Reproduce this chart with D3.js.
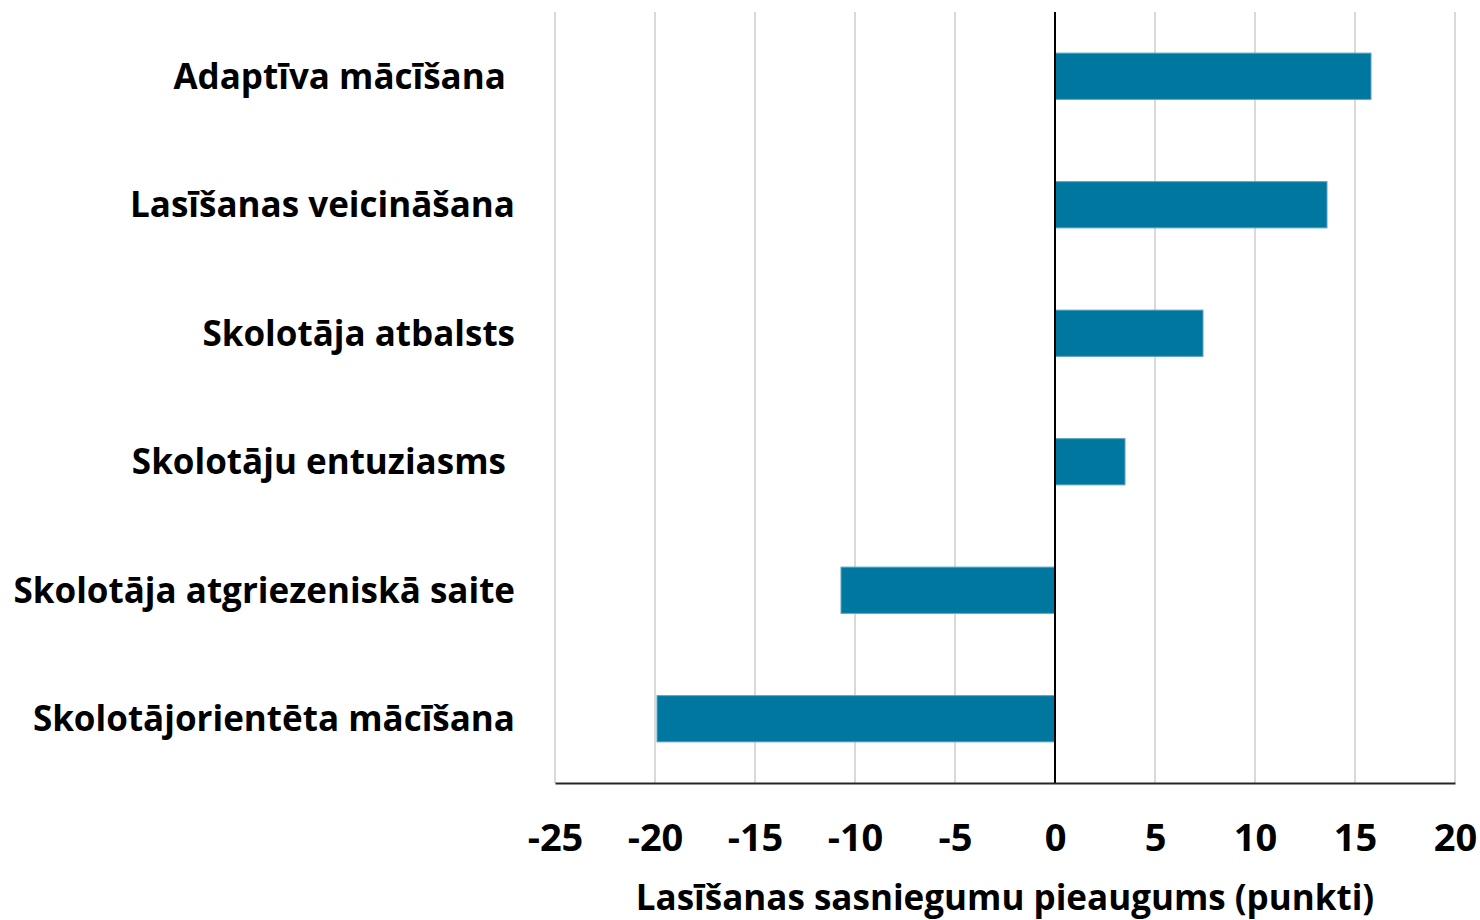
<!DOCTYPE html>
<html>
<head>
<meta charset="utf-8">
<script src="https://cdn.jsdelivr.net/npm/d3@7/dist/d3.min.js"></script>
<style>
  body { margin: 0; background: #fff; }
  svg text { font-family: "Open Sans", Lato, sans-serif; font-weight: bold; fill: #000; }
</style>
</head>
<body>
<svg id="chart" width="1480" height="920"></svg>
<script>
// categories top to bottom (trailing spaces kept as in the source)
var categories = [
    "Adaptīva mācīšana ",
    "Lasīšanas veicināšana",
    "Skolotāja atbalsts",
    "Skolotāju entuziasms ",
    "Skolotāja atgriezeniskā saite",
    "Skolotājorientēta mācīšana"
];
var values = [15.8, 13.6, 7.4, 3.5, -10.7, -19.9];
var tickValues = [-25, -20, -15, -10, -5, 0, 5, 10, 15, 20];
var axisTitle = "Lasīšanas sasniegumu pieaugums (punkti)";

var data = categories.map(function (c, i) {
    return {name: c, value: values[i]};
});

var svg = d3.select("#chart");
var plotLeft = 555, plotRight = 1455, plotTop = 12, plotBottom = 783;
var fontSize = "35px";

var x = d3.scaleLinear()
    .domain([-25, 20])
    .range([plotLeft, plotRight]);

var pad = 0.64;
var y = d3.scaleBand()
    .domain(categories)
    .range([plotTop, plotBottom])
    .paddingInner(pad)
    .paddingOuter(pad / 2);

// vertical gridlines
svg.append("g")
    .selectAll("line")
    .data(tickValues)
    .enter().append("line")
    .attr("x1", function (d) { return x(d); })
    .attr("x2", function (d) { return x(d); })
    .attr("y1", plotTop)
    .attr("y2", plotBottom)
    .attr("stroke", "#d9d9d9")
    .attr("stroke-width", 2);

// bars
svg.append("g")
    .selectAll("rect")
    .data(data)
    .enter().append("rect")
    .attr("x", function (d) { return x(Math.min(0, d.value)); })
    .attr("y", function (d) { return y(d.name); })
    .attr("width", function (d) { return Math.abs(x(d.value) - x(0)); })
    .attr("height", y.bandwidth())
    .attr("fill", "#00779f")
    .attr("stroke", "#5ba5c2")
    .attr("stroke-width", 1);

// zero line
svg.append("line")
    .attr("x1", x(0)).attr("x2", x(0))
    .attr("y1", plotTop).attr("y2", plotBottom)
    .attr("stroke", "#000")
    .attr("stroke-width", 2);

// bottom axis
var xAxis = d3.axisBottom(x)
    .tickValues(tickValues)
    .tickSize(0)
    .tickFormat(function (d) { return String(d); });

var gx = svg.append("g")
    .attr("transform", "translate(0," + plotBottom + ")")
    .call(xAxis);
gx.select(".domain")
    .attr("stroke", "#262626")
    .attr("stroke-width", 2);
gx.selectAll("text")
    .style("font-size", "38px")
    .style("font-family", "'Open Sans', sans-serif")
    .style("font-weight", "bold")
    .attr("fill", "#000")
    .attr("y", 55)
    .attr("dy", "0.35em");

// category labels
svg.append("g")
    .selectAll("text")
    .data(categories)
    .enter().append("text")
    .attr("x", 515)
    .attr("y", function (d) { return y(d) + y.bandwidth() / 2; })
    .attr("dy", "0.35em")
    .attr("text-anchor", "end")
    .style("white-space", "pre")
    .style("font-size", fontSize)
    .text(function (d) { return d; });

// axis title
svg.append("text")
    .attr("x", (plotLeft + plotRight) / 2)
    .attr("y", 898)
    .attr("dy", "0.35em")
    .attr("text-anchor", "middle")
    .style("font-size", fontSize)
    .text(axisTitle);
</script>
</body>
</html>
